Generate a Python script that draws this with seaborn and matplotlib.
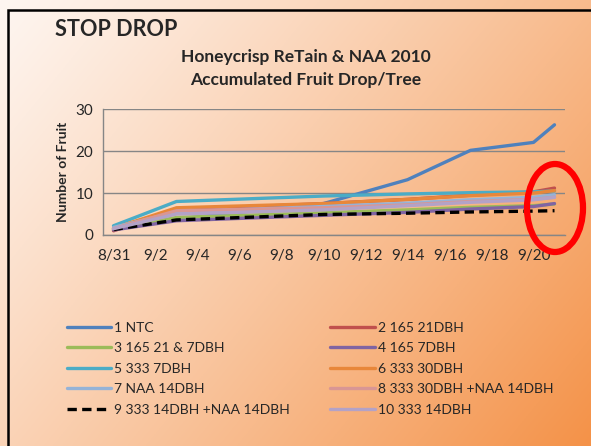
import numpy as np
import pandas as pd
import matplotlib
matplotlib.use("Agg")
import matplotlib.pyplot as plt
import matplotlib.dates as mdates
from matplotlib.patches import Ellipse, Rectangle
import seaborn as sns

# sample dates (2010)
dates = ["2010-08-31", "2010-09-03", "2010-09-10", "2010-09-14",
         "2010-09-17", "2010-09-20", "2010-09-21"]

# accumulated fruit drop per tree
ntc = [1.5, 3.8, 7.5, 13.2, 20.2, 22.1, 26.3]
r165_21 = [1.0, 6.0, 7.5, 8.5, 9.5, 10.3, 11.2]
r165_21_7 = [1.3, 4.2, 5.3, 6.0, 6.6, 7.0, 7.4]
r165_7 = [1.2, 3.4, 4.7, 5.4, 6.2, 6.8, 7.5]
r333_7 = [2.2, 8.0, 9.3, 9.8, 10.1, 10.3, 10.5]
r333_30 = [1.6, 6.5, 7.5, 8.5, 9.4, 10.0, 10.6]
naa_14 = [1.8, 5.5, 6.8, 7.6, 8.4, 9.0, 9.6]
r333_30_naa = [1.5, 5.8, 6.5, 7.2, 8.0, 8.5, 9.0]
r333_14_naa = [1.3, 3.6, 4.9, 5.2, 5.5, 5.7, 5.8]
r333_14 = [1.5, 5.0, 6.0, 7.0, 7.8, 8.4, 9.0]

series_names = ["1 NTC", "2 165 21DBH", "3 165 21 & 7DBH", "4 165 7DBH",
                "5 333 7DBH", "6 333 30DBH", "7 NAA 14DBH",
                "8 333 30DBH +NAA 14DBH", "9 333 14DBH +NAA 14DBH",
                "10 333 14DBH"]
series_vals = [ntc, r165_21, r165_21_7, r165_7, r333_7, r333_30, naa_14,
               r333_30_naa, r333_14_naa, r333_14]
colors = ["#4F81BD", "#C0504D", "#9BBB59", "#8064A2", "#4BACC6",
          "#E8873A", "#95B3D7", "#D99694", "#000000", "#B3A2C7"]

sns.set_style("white")
plt.rcParams["font.family"] = ["Lato", "DejaVu Sans"]

fig = plt.figure(figsize=(5.91, 4.46), dpi=100)

# slide background: diagonal gradient light peach -> orange
bg = fig.add_axes([0, 0, 1, 1], zorder=-5)
gx, gy = np.meshgrid(np.linspace(0, 1, 300), np.linspace(0, 1, 300))
t = np.clip(0.62 * gx + 0.38 * gy, 0, 1) ** 1.1
c0 = np.array([254, 246, 241]) / 255
c1 = np.array([244, 146, 72]) / 255
img = c0[None, None, :] * (1 - t[..., None]) + c1[None, None, :] * t[..., None]
bg.imshow(img, aspect="auto", extent=[0, 1, 0, 1], origin="upper")
bg.set_xlim(0, 1)
bg.set_ylim(0, 1)
bg.axis("off")
bg.add_patch(Rectangle((8 / 591, -0.1), 1.2, 1 - 10 / 446 + 0.1,
                       fill=False, ec="black", lw=1.8))

ax = fig.add_axes([103 / 591, 1 - 235 / 446, 462 / 591, 125.7 / 446])
ax.patch.set_alpha(0)

x = pd.to_datetime(dates)
for name, vals, col in zip(series_names, series_vals, colors):
    if name.startswith("9 "):
        sns.lineplot(x=x, y=vals, ax=ax, color=col, lw=2.4, label=name,
                     dashes=False, linestyle=(0, (2.8, 1.6)),
                     solid_capstyle="butt", dash_capstyle="butt")
    else:
        sns.lineplot(x=x, y=vals, ax=ax, color=col, lw=2.4, label=name,
                     solid_capstyle="round")

ax.set_ylim(0, 30)
ax.set_yticks([0, 10, 20, 30])
ax.set_xlim(pd.Timestamp("2010-08-30 12:00"), pd.Timestamp("2010-09-21 12:00"))
ax.xaxis.set_major_locator(mdates.DayLocator(bymonthday=[31, 2, 4, 6, 8, 10, 12, 14, 16, 18, 20]))
ax.xaxis.set_major_formatter(mdates.DateFormatter("%-m/%-d"))
minor = pd.date_range("2010-08-30 12:00", "2010-09-21 12:00", freq="2D")
ax.set_xticks(minor, minor=True)
ax.tick_params(axis="x", which="major", length=0, pad=10, labelsize=11)
ax.tick_params(axis="x", which="minor", length=4, color="#868686", width=1, direction="out")
ax.tick_params(axis="y", length=5, color="#868686", width=1, direction="out", labelsize=11, pad=2)
ax.grid(axis="y", color="#868686", lw=1)
ax.set_axisbelow(True)
for s in ["top", "right"]:
    ax.spines[s].set_visible(False)
for s in ["left", "bottom"]:
    ax.spines[s].set_color("#868686")
    ax.spines[s].set_linewidth(1)
ax.set_xlabel("")
ax.set_ylabel("Number of Fruit", fontsize=10, fontweight="bold", labelpad=5)

handles, labels = ax.get_legend_handles_labels()
ax.get_legend().remove()
order = [0, 2, 4, 6, 8, 1, 3, 5, 7, 9]
fig.legend([handles[i] for i in order], [labels[i] for i in order],
           ncol=2, loc="upper left", bbox_to_anchor=(54 / 591, 1 - 309 / 446),
           frameon=False, fontsize=10, handlelength=3.2, handletextpad=0.25,
           labelspacing=0.62, columnspacing=2.9)

fig.text(55 / 591, 1 - 30 / 446, "STOP DROP", fontsize=15.6, fontweight="bold",
         va="center", ha="left")
fig.text(306 / 591, 1 - 57 / 446, "Honeycrisp ReTain & NAA 2010", fontsize=12.5,
         fontweight="bold", ha="center", va="center")
fig.text(306 / 591, 1 - 80 / 446, "Accumulated Fruit Drop/Tree", fontsize=12.5,
         fontweight="bold", ha="center", va="center")

bg2 = fig.add_axes([0, 0, 1, 1], zorder=10)
bg2.set_xlim(0, 591)
bg2.set_ylim(446, 0)
bg2.axis("off")
bg2.patch.set_alpha(0)
bg2.add_patch(Ellipse((555, 208), 56, 88, fill=False, ec="#FF0000", lw=4.5))

fig.savefig("out.png", dpi=100)
